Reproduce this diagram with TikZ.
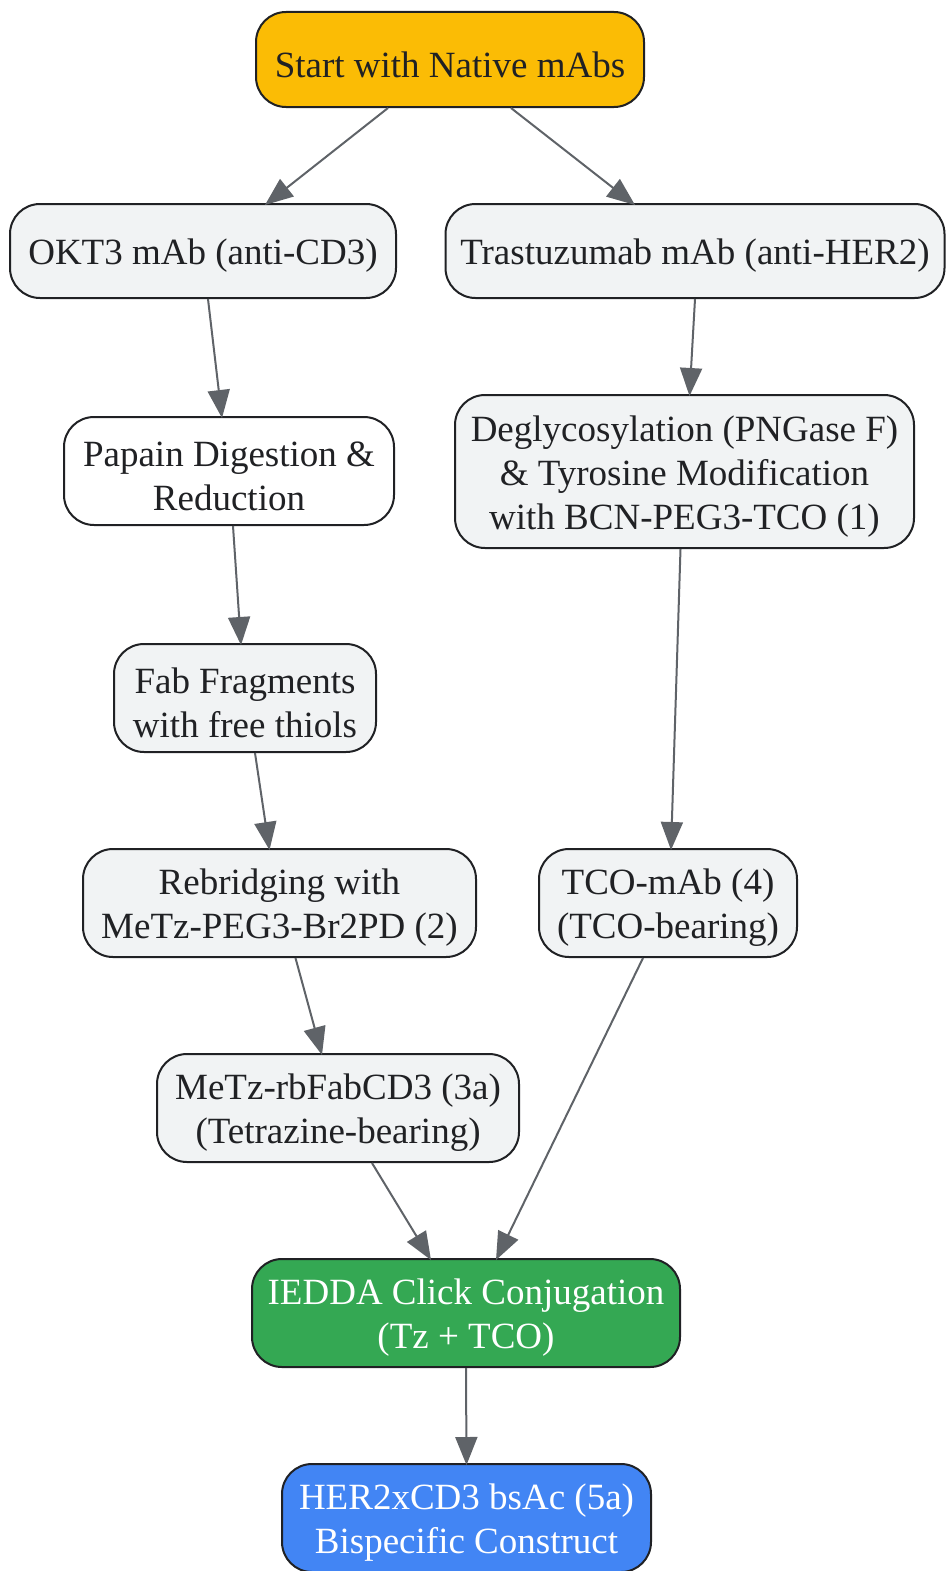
\documentclass[tikz,border=0pt]{standalone}
\usepackage{fontspec}
\setmainfont{Liberation Serif}
\usetikzlibrary{arrows.meta}
\definecolor{txt}{HTML}{202124}
\definecolor{bord}{HTML}{202124}
\definecolor{edgec}{HTML}{5F6368}
\definecolor{boxfill}{HTML}{F1F3F4}
\definecolor{orangec}{HTML}{FBBC05}
\definecolor{greenc}{HTML}{34A853}
\definecolor{bluec}{HTML}{4285F4}
\tikzset{
  box/.style={draw=bord, line width=2pt, rounded corners=30pt, fill=boxfill,
    inner sep=0pt},
  lbl/.style={text=txt, align=center, inner sep=0pt, yshift=-5pt,
    font=\fontsize{37}{44}\selectfont},
  wlbl/.style={lbl, text=white},
  conn/.style={draw=edgec, line width=2pt,
    -{Triangle[length=28pt,width=22pt]}, color=edgec},
}
\begin{document}
\begin{tikzpicture}[x=1pt,y=-1pt]
\useasboundingbox (0,0) rectangle (945,1571);
\node[box, fill=orangec, minimum width=388pt, minimum height=95pt,
  label={[lbl]center:Start with Native mAbs}] (start) at (450,59.5) {};
\node[box, minimum width=386pt, minimum height=94pt,
  label={[lbl]center:OKT3 mAb (anti-CD3)}] (okt) at (203,251) {};
\node[box, minimum width=499pt, minimum height=94pt,
  label={[lbl]center:Trastuzumab mAb (anti-HER2)}] (tras) at (695,251) {};
\node[box, fill=white, minimum width=330pt, minimum height=108pt,
  label={[lbl]center:{Papain Digestion \&\\Reduction}}] (pap) at (229,471) {};
\node[box, minimum width=459pt, minimum height=153pt,
  label={[lbl]center:{Deglycosylation (PNGase F)\\\& Tyrosine Modification\\with BCN-PEG3-TCO (1)}}] (deg) at (684.5,471.5) {};
\node[box, minimum width=262pt, minimum height=108pt,
  label={[lbl]center:{Fab Fragments\\with free thiols}}] (fab) at (245,698) {};
\node[box, minimum width=393pt, minimum height=108pt,
  label={[lbl]center:{Rebridging with\\MeTz-PEG3-Br2PD (2)}}] (reb) at (279.5,903) {};
\node[box, minimum width=258pt, minimum height=108pt,
  label={[lbl]center:{TCO-mAb (4)\\(TCO-bearing)}}] (tco) at (668,903) {};
\node[box, minimum width=362pt, minimum height=108pt,
  label={[lbl]center:{MeTz-rbFabCD3 (3a)\\(Tetrazine-bearing)}}] (metz) at (338,1108) {};
\node[box, fill=greenc, minimum width=428pt, minimum height=108pt,
  label={[wlbl]center:{IEDDA Click Conjugation\\(Tz + TCO)}}] (ied) at (466,1313) {};
\node[box, fill=bluec, minimum width=369pt, minimum height=108pt,
  label={[wlbl]center:{HER2xCD3 bsAc (5a)\\Bispecific Construct}}] (her) at (466.5,1518) {};

\draw[conn] ([xshift=-62pt]start.south) -- ([xshift=62pt,yshift=-2pt]okt.north);
\draw[conn] ([xshift=61pt]start.south) -- ([xshift=-60pt,yshift=-2pt]tras.north);
\draw[conn] ([xshift=5pt]okt.south) -- ([xshift=-7pt,yshift=-2pt]pap.north);
\draw[conn] ([xshift=0pt]tras.south) -- ([xshift=5pt,yshift=-2pt]deg.north);
\draw[conn] ([xshift=4pt]pap.south) -- ([xshift=-4pt,yshift=-2pt]fab.north);
\draw[conn] ([xshift=-4pt]deg.south) -- ([xshift=3pt,yshift=-2pt]tco.north);
\draw[conn] ([xshift=10pt]fab.south) -- ([xshift=-10pt,yshift=-2pt]reb.north);
\draw[conn] ([xshift=16pt]reb.south) -- ([xshift=-16pt,yshift=-2pt]metz.north);
\draw[conn] ([xshift=34pt]metz.south) -- ([xshift=-35pt,yshift=-2pt]ied.north);
\draw[conn] ([xshift=-25pt]tco.south) -- ([xshift=30pt,yshift=-2pt]ied.north);
\draw[conn] (ied.south) -- ([yshift=-2pt]her.north);
\end{tikzpicture}
\end{document}
